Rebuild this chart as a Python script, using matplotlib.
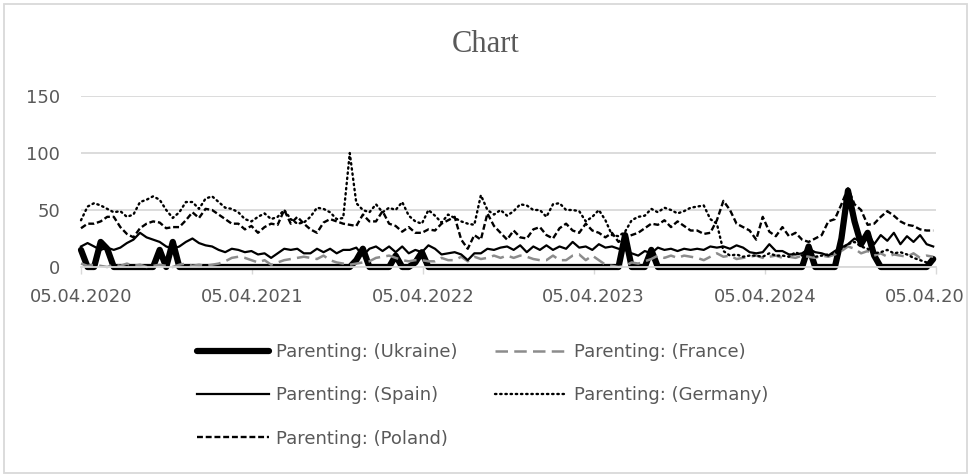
import matplotlib
matplotlib.use("Agg")
import matplotlib.pyplot as plt
import matplotlib.dates as mdates
from matplotlib.patches import Rectangle
import pandas as pd

# biweekly samples, 05.04.2020 .. end of March 2025
dates = pd.date_range("2020-04-05", periods=131, freq="14D")

ukraine = [15, 0, 0, 22, 16, 0, 0, 0, 0, 0, 0, 0, 15,
           0, 22, 0, 0, 0, 0, 0, 0, 0, 0, 0, 0, 0,
           0, 0, 0, 0, 0, 0, 0, 0, 0, 0, 0, 0, 0,
           0, 0, 0, 6, 16, 0, 0, 0, 0, 10, 0, 0, 4,
           13, 0, 0, 0, 0, 0, 0, 0, 0, 0, 0, 0, 0,
           0, 0, 0, 0, 0, 0, 0, 0, 0, 0, 0, 0, 0,
           0, 0, 0, 0, 0, 28, 0, 0, 0, 15, 0, 0, 0,
           0, 0, 0, 0, 0, 0, 0, 0, 0, 0, 0, 0, 0,
           0, 0, 0, 0, 0, 0, 0, 18, 0, 0, 0, 0, 25,
           67, 40, 20, 30, 10, 0, 0, 0, 0, 0, 0, 0, 0,
           7]

france = [3, 1, 2, 1, 0, 2, 1, 3, 1, 2, 0, 1, 2, 1, 0, 2, 3, 1, 2, 1, 2, 3,
          5, 8, 9, 8, 6, 4, 6, 2, 4, 6, 7, 8, 9, 8, 7, 10, 6, 4, 3, 2, 3,
          4, 5, 8, 9, 10, 8, 6, 5, 6, 6, 5, 5, 8, 6, 6, 9, 5, 9, 7, 8, 10, 8, 10,
          8, 10, 9, 7, 6, 6, 10, 6, 6, 10, 11, 6, 10, 6, 2, 1, 0, 1, 4, 3, 5, 7,
          10, 8, 10, 8, 10, 9, 8, 6, 9, 12, 9, 10, 7, 8, 9, 10, 8, 9, 10, 8, 9,
          8, 10, 9, 8, 10, 9, 11, 14, 18, 16, 12, 14, 10, 12, 9, 11, 10, 9, 12, 8, 10, 9]

spain = [18, 21, 18, 15, 17, 15, 17, 21, 24, 30, 26, 24, 22, 18, 16, 18, 22, 25, 21, 19, 18, 15,
         13, 16, 15, 13, 14, 11, 12, 8, 12, 16, 15, 16, 12, 12, 16, 13, 16, 12, 15, 15, 17,
         10, 16, 18, 14, 18, 13, 18, 12, 15, 13, 19, 16, 11, 12, 13, 11, 6, 12, 12, 16, 15, 17, 18,
         15, 19, 13, 18, 15, 19, 15, 18, 16, 22, 17, 18, 15, 20, 17, 18, 16, 15, 12, 10, 14, 12,
         17, 15, 16, 14, 16, 15, 16, 15, 18, 17, 18, 16, 19, 17, 13, 12, 13, 20, 14, 14, 11,
         11, 12, 16, 13, 12, 10, 14, 17, 20, 25, 22, 30, 20, 28, 23, 30, 20, 27, 22, 28, 20, 18]

germany = [41, 53, 56, 54, 51, 48, 49, 44, 46, 57, 59, 62, 59, 50, 43, 48, 57, 57, 51, 60, 62, 57,
           52, 51, 48, 42, 40, 44, 47, 42, 44, 50, 42, 38, 39, 44, 52, 51, 48, 42, 43, 100, 56,
           50, 48, 55, 48, 52, 50, 57, 45, 40, 38, 50, 45, 39, 46, 43, 40, 38, 37, 63, 50, 46, 50, 45,
           49, 55, 54, 50, 50, 44, 55, 56, 50, 50, 49, 40, 44, 50, 41, 28, 27, 31, 41, 44, 45, 51,
           48, 52, 50, 47, 49, 52, 53, 54, 42, 38, 14, 10, 11, 9, 10, 10, 9, 12, 10, 10, 9,
           13, 10, 12, 9, 10, 11, 12, 16, 20, 22, 18, 16, 12, 13, 15, 12, 13, 11, 8, 6, 4, 3]

poland = [34, 38, 38, 40, 44, 44, 35, 29, 26, 34, 38, 40, 39, 34, 35, 35, 41, 48, 43, 51, 50, 46,
          42, 38, 38, 33, 36, 30, 35, 38, 37, 50, 38, 44, 38, 33, 30, 39, 42, 40, 38, 37, 36,
          46, 40, 40, 49, 38, 36, 31, 35, 30, 30, 33, 32, 38, 41, 44, 24, 16, 28, 24, 47, 36, 30, 24,
          32, 26, 25, 33, 35, 28, 25, 34, 38, 32, 30, 38, 32, 30, 26, 30, 22, 26, 28, 30, 34, 38,
          37, 41, 35, 40, 36, 32, 32, 29, 30, 41, 58, 50, 38, 35, 32, 24, 44, 31, 27, 35, 27,
          30, 24, 22, 25, 28, 40, 42, 55, 69, 55, 50, 37, 38, 44, 49, 45, 40, 37, 36, 33, 32, 32]

year_ticks = pd.to_datetime(["2020-04-05", "2021-04-05", "2022-04-05",
                             "2023-04-05", "2024-04-05", "2025-04-05"])

grey_text = "#595959"
grey_line = "#d9d9d9"

W, H = 971, 476
fig = plt.figure(figsize=(W / 100, H / 100), dpi=100)
ax = fig.add_axes([81 / W, 1 - 267 / H, (936 - 81) / W, (267 - 96) / H])

l_ua, = ax.plot(dates, ukraine, color="black", lw=4.5, solid_capstyle="round",
                solid_joinstyle="round", clip_on=False, label="Parenting: (Ukraine)")
l_fr, = ax.plot(dates, france, color="#8c8c8c", lw=1.8, linestyle=(0, (5, 2.5)),
                clip_on=False, label="Parenting: (France)")
l_es, = ax.plot(dates, spain, color="black", lw=1.6, clip_on=False,
                label="Parenting: (Spain)")
l_de, = ax.plot(dates, germany, color="black", lw=1.7, linestyle=(0, (0.6, 1.6)),
                dash_capstyle="round", clip_on=False, label="Parenting: (Germany)")
l_pl, = ax.plot(dates, poland, color="black", lw=1.7, linestyle=(0, (2.5, 1.2)),
                clip_on=False, label="Parenting: (Poland)")

ax.set_xlim(year_ticks[0], year_ticks[-1])
ax.set_ylim(0, 150)
ax.set_yticks([0, 50, 100, 150])
ax.set_xticks(year_ticks)
ax.xaxis.set_major_formatter(mdates.DateFormatter("%d.%m.%Y"))

ax.yaxis.grid(True, color=grey_line, lw=1.3)
ax.set_axisbelow(True)
for s in ["left", "right", "top"]:
    ax.spines[s].set_visible(False)
ax.spines["bottom"].set_color(grey_line)
ax.spines["bottom"].set_linewidth(1.3)

ax.tick_params(axis="y", length=0, pad=15, labelsize=13, labelcolor=grey_text)
ax.tick_params(axis="x", length=5, width=1, color=grey_line, pad=10,
               labelsize=13, labelcolor=grey_text)

fig.text(0.5, 1 - 45 / H, "Chart", family="Liberation Serif", size=22,
         color=grey_text, ha="center", va="center")

# excel fills the legend row by row, matplotlib column by column
fig.legend(handles=[l_ua, l_es, l_pl, l_fr, l_de], loc="upper left",
           bbox_to_anchor=(197 / W, 1 - 343 / H), ncol=2, frameon=False,
           fontsize=13, labelcolor=grey_text, handlelength=4, handletextpad=0.4,
           columnspacing=2.05, labelspacing=1.4, borderpad=0, borderaxespad=0)

# chart area border, last tick label is cut at it
fig.patches.append(Rectangle((965 / W, 0), 6 / W, 1, transform=fig.transFigure,
                             fc="white", ec="none", zorder=9))
fig.patches.append(Rectangle((4 / W, 3 / H), 963 / W, 469 / H, transform=fig.transFigure,
                             fill=False, ec=grey_line, lw=1.3, zorder=10))

fig.savefig("out.png", dpi=100)
